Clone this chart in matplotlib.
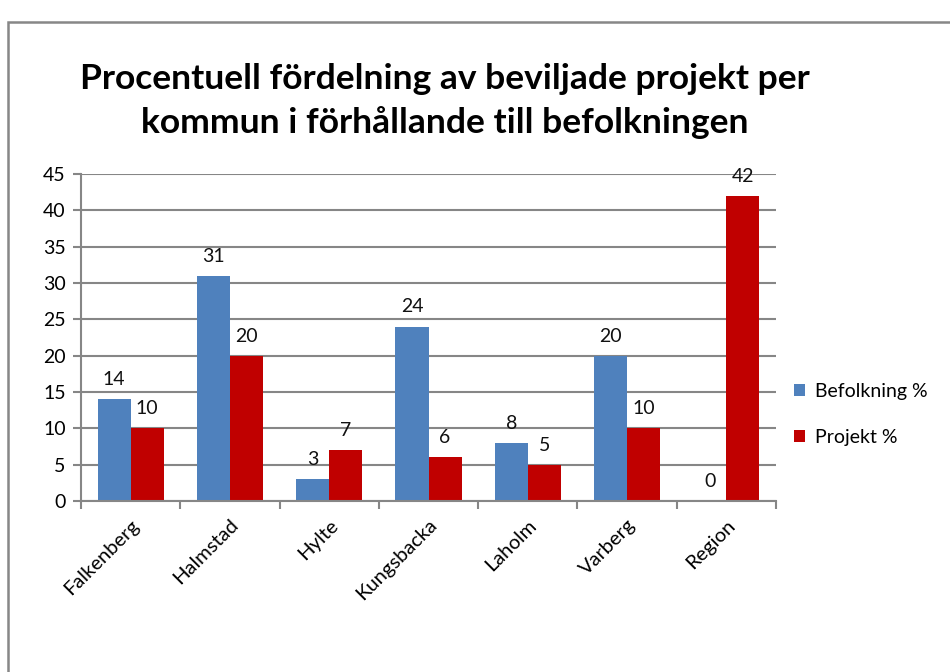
import matplotlib.pyplot as plt
import numpy as np
from matplotlib.patches import Rectangle

categories = ['Falkenberg', 'Halmstad', 'Hylte', 'Kungsbacka', 'Laholm', 'Varberg', 'Region']
befolkning = [14, 31, 3, 24, 8, 20, 0]
projekt = [10, 20, 7, 6, 5, 10, 42]
yticks = [0, 5, 10, 15, 20, 25, 30, 35, 40, 45]

BLUE = '#4F81BD'
RED = '#C00000'
GRID = '#868686'

plt.rcParams['font.family'] = ['Lato', 'DejaVu Sans']

fig = plt.figure(figsize=(9.5, 6.72), dpi=100)
fig.patch.set_facecolor('white')

# outer chart border (extends past the right/bottom edge like the original crop)
fig.add_artist(Rectangle((8 / 950, -0.1), 1.2, 1.1 - 22 / 672, transform=fig.transFigure,
                         fill=False, edgecolor='#878787', linewidth=1.8))

ax = fig.add_axes([81 / 950, (672 - 501) / 672, 695 / 950, 327 / 672])

x = np.arange(len(categories))
width = 1 / 3
b1 = ax.bar(x - width / 2, befolkning, width, color=BLUE, label='Befolkning %')
b2 = ax.bar(x + width / 2, projekt, width, color=RED, label='Projekt %')

for rects in (b1, b2):
    for r in rects:
        h = r.get_height()
        ax.annotate(f'{h:.0f}', xy=(r.get_x() + r.get_width() / 2, h),
                    xytext=(0, 8), textcoords='offset points',
                    ha='center', va='bottom', fontsize=14, color='#111111')

ax.set_xlim(-0.5, len(categories) - 0.5)
ax.set_ylim(0, 45)
ax.set_yticks(yticks)
ax.yaxis.grid(True, color=GRID, linewidth=1.5)
ax.set_axisbelow(True)

ax.set_xticks(np.arange(len(categories) + 1) - 0.5, minor=False)
ax.set_xticklabels([])
ax.set_xticks(x, minor=True)
ax.set_xticklabels(categories, minor=True, rotation=45, ha='right',
                   rotation_mode='anchor', fontsize=14.5)
ax.tick_params(axis='x', which='minor', length=0, pad=11)
ax.tick_params(axis='x', which='major', length=6, width=1.5, color=GRID, direction='out')
ax.tick_params(axis='y', length=6, width=1.5, color=GRID, direction='out',
               labelsize=14, pad=5)

for s in ['top', 'right']:
    ax.spines[s].set_visible(False)
for s in ['left', 'bottom']:
    ax.spines[s].set_color(GRID)
    ax.spines[s].set_linewidth(1.5)

fig.text(445 / 950, 1 - 101 / 672,
         'Procentuell fördelning av beviljade projekt per\nkommun i förhållande till befolkningen',
         ha='center', va='center', fontsize=25.5, fontweight='bold', linespacing=1.42)

ax.legend(loc='center left', bbox_to_anchor=(1.0, 0.265), frameon=False,
          fontsize=14, handlelength=0.6, handleheight=0.6, handletextpad=0.5,
          labelspacing=1.5)

plt.savefig('out.png', dpi=100)
